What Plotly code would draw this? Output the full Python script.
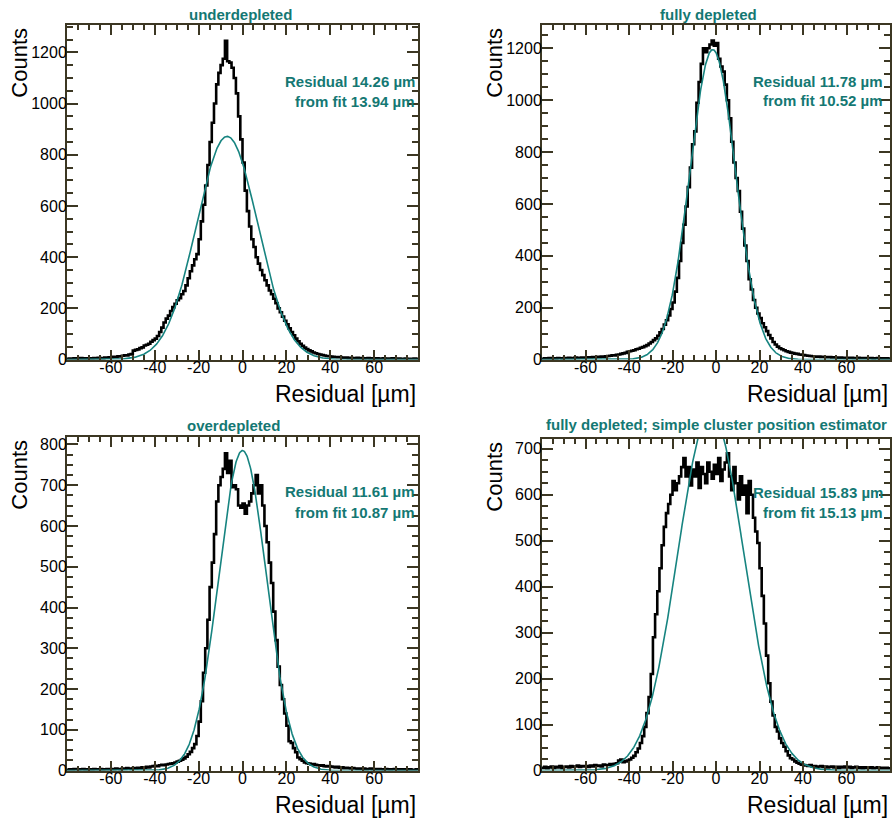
import plotly.graph_objects as go
import numpy as np

# ---------------- data ----------------
bin_edges_left = list(range(-80, 80))   # 1 um bins, left edges, -80 .. 79

counts_underdepleted = [
    3, 4, 2, 5, 3, 4, 6, 3, 5, 4,
    5, 4, 6, 5, 7, 6, 5, 8, 7, 9,
    9, 11, 10, 13, 12, 15, 17, 16, 20, 22,
    35, 38, 40, 45, 48, 55, 58, 62, 70, 76,
    82, 92, 108, 125, 145, 160, 172, 190, 205, 218,
    232, 240, 255, 268, 290, 318, 345, 368, 392, 412,
    470, 540, 605, 680, 760, 850, 925, 1000, 1075, 1120,
    1150, 1175, 1245, 1165, 1160, 1140, 1100, 1040, 950, 860,
    770, 660, 580, 520, 470, 440, 400, 375, 350, 330,
    310, 290, 270, 255, 238, 220, 200, 185, 168, 152,
    138, 122, 108, 95, 82, 72, 62, 54, 47, 41,
    36, 32, 28, 25, 22, 20, 18, 16, 14, 13,
    12, 11, 10, 9, 10, 8, 7, 8, 6, 7,
    6, 5, 7, 5, 6, 4, 5, 6, 4, 5,
    4, 5, 3, 4, 5, 3, 4, 3, 5, 4,
    3, 4, 3, 2, 4, 3, 2, 3, 4, 3,
]

counts_fully_depleted = [
    3, 5, 4, 6, 3, 5, 4, 6, 5, 4,
    6, 5, 7, 5, 6, 8, 6, 7, 8, 7,
    8, 9, 8, 10, 9, 11, 10, 12, 11, 13,
    14, 15, 17, 16, 19, 20, 22, 24, 26, 30,
    32, 34, 36, 40, 42, 46, 48, 52, 56, 62,
    68, 75, 82, 92, 105, 118, 135, 152, 170, 195,
    220, 262, 315, 380, 450, 520, 590, 665, 740, 830,
    880, 990, 1070, 1140, 1200, 1185, 1200, 1215, 1230, 1210,
    1220, 1160, 1130, 1110, 1060, 1000, 930, 840, 760, 700,
    650, 570, 505, 440, 380, 310, 270, 230, 200, 178,
    160, 140, 125, 110, 95, 82, 68, 58, 50, 44,
    40, 36, 32, 30, 27, 25, 23, 22, 20, 19,
    18, 16, 15, 14, 13, 12, 11, 12, 10, 11,
    10, 9, 10, 8, 9, 8, 7, 8, 7, 6,
    7, 6, 7, 5, 6, 7, 5, 6, 5, 6,
    5, 6, 4, 5, 6, 4, 5, 4, 5, 4,
]

counts_overdepleted = [
    2, 3, 2, 4, 3, 2, 3, 4, 2, 3,
    3, 2, 4, 3, 3, 4, 2, 3, 4, 3,
    4, 3, 5, 4, 3, 5, 4, 6, 5, 4,
    6, 5, 7, 6, 8, 7, 9, 8, 10, 11,
    12, 11, 13, 14, 13, 15, 16, 17, 18, 20,
    22, 24, 27, 30, 34, 40, 46, 55, 65, 85,
    120, 170, 240, 300, 370, 450, 510, 580, 660, 700,
    720, 740, 778, 730, 760, 695, 700, 690, 650, 645,
    655, 630, 650, 660, 680, 700, 725, 680, 700, 650,
    600, 560, 510, 460, 390, 320, 255, 210, 175, 140,
    110, 72, 68, 55, 45, 32, 28, 24, 20, 18,
    17, 15, 16, 14, 13, 12, 13, 11, 10, 11,
    10, 9, 8, 9, 7, 8, 6, 7, 6, 5,
    6, 5, 4, 5, 4, 5, 3, 4, 5, 3,
    4, 3, 4, 3, 2, 4, 3, 2, 3, 4,
    3, 2, 3, 2, 3, 2, 3, 2, 2, 3,
]

counts_simple_estimator = [
    6, 8, 5, 7, 9, 6, 8, 7, 10, 6,
    8, 9, 7, 10, 8, 9, 11, 8, 10, 9,
    10, 8, 11, 9, 12, 10, 11, 9, 13, 12,
    12, 14, 13, 15, 16, 22, 24, 18, 20, 22,
    24, 28, 32, 40, 48, 60, 75, 95, 125, 160,
    210, 290, 340, 390, 440, 490, 530, 560, 580, 600,
    630, 610, 625, 640, 660, 680, 640, 660, 620, 655,
    640, 670, 615, 660, 645, 625, 670, 650, 635, 665,
    645, 680, 630, 655, 670, 690, 640, 610, 660, 625,
    590, 640, 600, 620, 560, 630, 600, 550, 520, 495,
    440, 380, 320, 250, 190, 150, 120, 95, 85, 70,
    60, 52, 42, 33, 27, 24, 20, 17, 15, 13,
    12, 11, 10, 12, 9, 10, 8, 9, 10, 8,
    9, 7, 8, 9, 7, 8, 6, 8, 7, 9,
    7, 8, 6, 7, 8, 6, 7, 5, 7, 6,
    6, 7, 5, 6, 7, 5, 6, 5, 6, 5,
]

# Gaussian fit parameters (amplitude, mean, sigma)
fit_underdepleted = (872, -7.0, 13.94)
fit_fully_depleted = (1195, -1.5, 10.52)
fit_overdepleted = (785, 0.0, 10.87)
fit_simple_estimator = (781, -2.4, 15.13)

titles = ["underdepleted", "fully depleted", "overdepleted",
          "fully depleted; simple cluster position estimator"]
residual_texts = ["14.26", "11.78", "11.61", "15.83"]
fit_texts = ["13.94", "10.52", "10.87", "15.13"]
y_max = [1308, 1291, 819, 722]
y_major = [200, 200, 100, 100]
y_minor = [50, 50, 25, 25]
x_tick_vals = [-60, -40, -20, 0, 20, 40, 60]

# ---------------- style ----------------
W, H = 893, 828
TEAL_TXT = "#147873"
TEAL_LINE = "#178480"
FRAME = "#3c3723"
FONT = "Liberation Sans, Arial, Helvetica, sans-serif"

frames = [(67, 418, 24, 363), (542, 890, 24, 363), (67, 418, 441, 779), (542, 890, 443, 779)]
title_pos = [(240, 14), (708, 14), (233, 430), (716, 429)]
text_pos = [(417, 81, 102), (885, 81, 101), (417, 497, 518), (885, 498, 518)]


def pxx(x):
    return x / W


def pyy(y):
    return 1 - y / H


hists = [counts_underdepleted, counts_fully_depleted, counts_overdepleted, counts_simple_estimator]
fits = [fit_underdepleted, fit_fully_depleted, fit_overdepleted, fit_simple_estimator]

fig = go.Figure()
xfit = np.linspace(-80, 80, 801)
for i in range(4):
    suffix = "" if i == 0 else str(i + 1)
    xe = bin_edges_left + [80]
    ye = hists[i] + [hists[i][-1]]
    fig.add_trace(go.Scatter(x=xe, y=ye, mode="lines", line=dict(shape="hv", color="black", width=2.6),
                             xaxis="x" + suffix, yaxis="y" + suffix, showlegend=False, hoverinfo="skip"))
    A, mu, s = fits[i]
    yfit = A * np.exp(-0.5 * ((xfit - mu) / s) ** 2)
    fig.add_trace(go.Scatter(x=xfit, y=yfit, mode="lines", line=dict(color=TEAL_LINE, width=1.6),
                             xaxis="x" + suffix, yaxis="y" + suffix, showlegend=False, hoverinfo="skip"))

layout = dict(width=W, height=H, margin=dict(l=0, r=0, t=0, b=0),
              paper_bgcolor="white", plot_bgcolor="white", showlegend=False,
              font=dict(family=FONT, color="black"))
annotations = []
for i in range(4):
    x0, x1, y0, y1 = frames[i]
    suffix = "" if i == 0 else str(i + 1)
    layout["xaxis" + suffix] = dict(
        domain=[pxx(x0), pxx(x1)], range=[-80, 80], anchor="y" + suffix,
        showline=True, linecolor=FRAME, linewidth=2, mirror="ticks",
        ticks="inside", ticklen=10, tickwidth=1.5, tickcolor=FRAME,
        tickmode="array", tickvals=x_tick_vals, ticktext=[str(v) for v in x_tick_vals],
        tickfont=dict(size=16, family=FONT, color="black"), ticklabelstandoff=-8,
        minor=dict(tickmode="linear", tick0=0, dtick=5, ticks="inside", ticklen=5, tickwidth=1.5,
                   tickcolor=FRAME, showgrid=False),
        showgrid=False, zeroline=False, fixedrange=True,
    )
    layout["yaxis" + suffix] = dict(
        domain=[pyy(y1), pyy(y0)], range=[0, y_max[i]], anchor="x" + suffix,
        showline=True, linecolor=FRAME, linewidth=2, mirror="ticks",
        ticks="inside", ticklen=11, tickwidth=1.5, tickcolor=FRAME,
        tickmode="linear", tick0=0, dtick=y_major[i],
        tickfont=dict(size=16, family=FONT, color="black"), ticklabelstandoff=-5,
        minor=dict(tickmode="linear", tick0=0, dtick=y_minor[i], ticks="inside", ticklen=6, tickwidth=1.5,
                   tickcolor=FRAME, showgrid=False),
        showgrid=False, zeroline=False, fixedrange=True,
    )
    # panel title
    tx, ty = title_pos[i]
    annotations.append(dict(x=pxx(tx), y=pyy(ty), xref="paper", yref="paper", text="<b>%s</b>" % titles[i],
                            showarrow=False, xanchor="center", yanchor="middle",
                            font=dict(size=15, color=TEAL_TXT, family=FONT)))
    # residual texts
    rx, ry1, ry2 = text_pos[i]
    annotations.append(dict(x=pxx(rx), y=pyy(ry1), xref="paper", yref="paper",
                            text="<b>Residual %s µm</b>" % residual_texts[i],
                            showarrow=False, xanchor="right", yanchor="middle",
                            font=dict(size=15, color=TEAL_TXT, family=FONT)))
    annotations.append(dict(x=pxx(rx), y=pyy(ry2), xref="paper", yref="paper",
                            text="<b>from fit %s µm</b>" % fit_texts[i],
                            showarrow=False, xanchor="right", yanchor="middle",
                            font=dict(size=15, color=TEAL_TXT, family=FONT)))
    # axis titles
    annotations.append(dict(x=pxx(x1), y=pyy(y1 + 35), xref="paper", yref="paper",
                            text="Residual [µm]", showarrow=False, xanchor="right", yanchor="middle",
                            font=dict(size=23, color="black", family=FONT)))
    annotations.append(dict(x=pxx(x0 - 47), y=pyy(y0 + 1), xref="paper", yref="paper",
                            text="Counts", showarrow=False, textangle=-90, xanchor="center", yanchor="top",
                            font=dict(size=22, color="black", family=FONT)))

layout["annotations"] = annotations
fig.update_layout(**layout)
fig.write_html("out.html")
